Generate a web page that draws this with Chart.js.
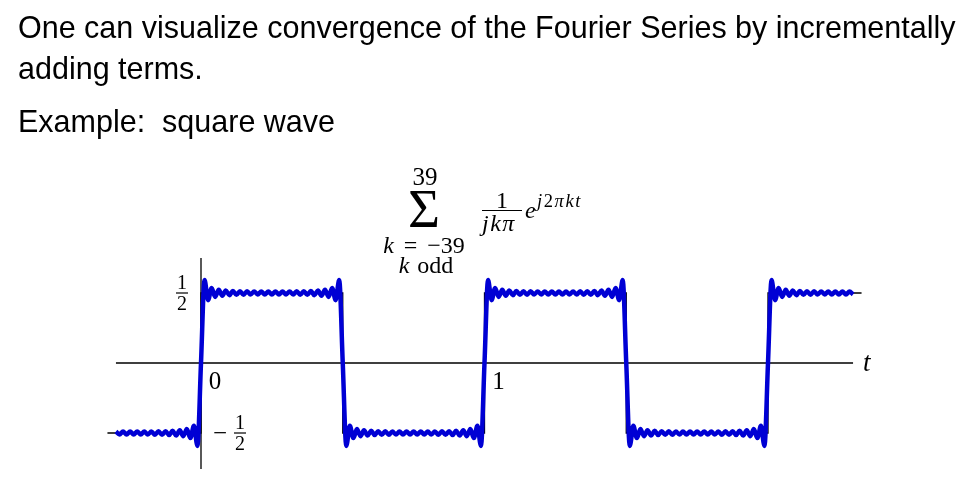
<!DOCTYPE html>
<html>
<head>
<meta charset="utf-8">
<script src="https://cdn.jsdelivr.net/npm/chart.js@4.4.0/dist/chart.umd.min.js"></script>
<style>
  body { margin: 0; background: #fff; }
  #wrap { position: relative; width: 976px; height: 477px; overflow: hidden; }
  #fourierChart { position: absolute; left: 0; top: 0; }
  .txt { position: absolute; left: 18px; font-family: 'Liberation Sans', sans-serif; font-size: 30.5px; line-height: 1; white-space: nowrap; color: #000; }
  .m { position: absolute; font-family: 'Liberation Serif', serif; line-height: 1; white-space: nowrap; color: #000; }
  .c { text-align: center; }
  .i { font-style: italic; }
</style>
</head>
<body>
<div id="wrap">
  <canvas id="fourierChart" width="976" height="477"></canvas>

  <div class="txt" style="top:12px;">One can visualize convergence of the Fourier Series by incrementally</div>
  <div class="txt" style="top:53px;">adding terms.</div>
  <div class="txt" style="top:106px;">Example:&nbsp; square wave</div>

  <!-- the sum shown above the plot -->
  <div class="m c" style="left:385px; width:80px; top:164px; font-size:25px;">39</div>
  <div class="m" style="left:408px; top:181px; font-size:55px;">Σ</div>
  <div class="m c" style="left:364px; width:120px; top:233px; font-size:24px; word-spacing:4px;"><span class="i">k</span> = −39</div>
  <div class="m c" style="left:366px; width:120px; top:253px; font-size:24px; word-spacing:2px;"><span class="i">k</span> odd</div>
  <div class="m c" style="left:482px; width:40px; top:188px; font-size:24px;">1</div>
  <div style="position:absolute; left:482px; top:210px; width:40px; height:1.3px; background:#000;"></div>
  <div class="m i" style="left:482px; top:211px; font-size:24px; letter-spacing:1.5px;">jkπ</div>
  <div class="m i" style="left:525px; top:198px; font-size:24px;">e</div>
  <div class="m i" style="left:537px; top:192px; font-size:18.5px; letter-spacing:1.6px;">j<span style="font-style:normal">2</span>πkt</div>
</div>

<script>
// sample grid of the partial sum (one point per ripple extremum)
const tStart = -0.3;
const tStep = 1 / 80;

// partial sum values, read segment by segment
const rippleLowLead = [-0.490, -0.510, -0.490, -0.510, -0.490, -0.510, -0.490, -0.510, -0.490, -0.511, -0.489, -0.512,
  -0.488, -0.513, -0.487, -0.515, -0.484, -0.518, -0.480, -0.523, -0.472, -0.536, -0.449, -0.592];
const rippleHigh1 = [0, 0.592, 0.449, 0.536, 0.472, 0.523, 0.480, 0.518, 0.484, 0.515, 0.487, 0.513, 0.488, 0.512,
  0.489, 0.511, 0.490, 0.510, 0.490, 0.510, 0.490, 0.510, 0.490, 0.510, 0.490, 0.511, 0.489, 0.512, 0.488, 0.513,
  0.487, 0.515, 0.484, 0.518, 0.480, 0.523, 0.472, 0.536, 0.449, 0.592];
const rippleLow1 = [0, -0.592, -0.449, -0.536, -0.472, -0.523, -0.480, -0.518, -0.484, -0.515, -0.487, -0.513, -0.488, -0.512,
  -0.489, -0.511, -0.490, -0.510, -0.490, -0.510, -0.490, -0.510, -0.490, -0.510, -0.490, -0.511, -0.489, -0.512, -0.488, -0.513,
  -0.487, -0.515, -0.484, -0.518, -0.480, -0.523, -0.472, -0.536, -0.449, -0.592];
const rippleHigh2 = [0, 0.592, 0.449, 0.536, 0.472, 0.523, 0.480, 0.518, 0.484, 0.515, 0.487, 0.513, 0.488, 0.512,
  0.489, 0.511, 0.490, 0.510, 0.490, 0.510, 0.490, 0.510, 0.490, 0.510, 0.490, 0.511, 0.489, 0.512, 0.488, 0.513,
  0.487, 0.515, 0.484, 0.518, 0.480, 0.523, 0.472, 0.536, 0.449, 0.592];
const rippleLow2 = [0, -0.592, -0.449, -0.536, -0.472, -0.523, -0.480, -0.518, -0.484, -0.515, -0.487, -0.513, -0.488, -0.512,
  -0.489, -0.511, -0.490, -0.510, -0.490, -0.510, -0.490, -0.510, -0.490, -0.510, -0.490, -0.511, -0.489, -0.512, -0.488, -0.513,
  -0.487, -0.515, -0.484, -0.518, -0.480, -0.523, -0.472, -0.536, -0.449, -0.592];
const rippleHighTail = [0, 0.592, 0.449, 0.536, 0.472, 0.523, 0.480, 0.518, 0.484, 0.515, 0.487, 0.513, 0.488, 0.512,
  0.489, 0.511, 0.490, 0.510, 0.490, 0.510, 0.490, 0.510, 0.490, 0.510, 0.490];

// ideal square wave underneath
const squareT = [-0.33, 0, 0, 0.5, 0.5, 1, 1, 1.5, 1.5, 2, 2, 2.33];
const squareY = [-0.5, -0.5, 0.5, 0.5, -0.5, -0.5, 0.5, 0.5, -0.5, -0.5, 0.5, 0.5];

// axes and tick labels
const axisT = [-0.3, 2.3];
const axisY = [-0.757, 0.75];
const xTickValues = [0, 1];
const xTickLabels = ['0', '1'];
const yTickValues = [0.5, -0.5];
const yTickSigns = ['', '−'];
const yTickNum = ['1', '1'];
const yTickDen = ['2', '2'];

const rippleY = [].concat(rippleLowLead, rippleHigh1, rippleLow1, rippleHigh2, rippleLow2, rippleHighTail);
const sumPoints = rippleY.map((y, i) => ({ x: tStart + i * tStep, y: y }));
const squarePoints = squareT.map((t, i) => ({ x: t, y: squareY[i] }));

const serif = "'Liberation Serif', serif";

//axes under the curves, labels on top
const axesLines = {
  id: 'axesLines',
  beforeDatasetsDraw(chart) {
    const { ctx, scales: { x, y } } = chart;
    ctx.save();
    ctx.strokeStyle = '#000';
    ctx.lineWidth = 1.3;
    ctx.beginPath();
    ctx.moveTo(x.getPixelForValue(axisT[0]), y.getPixelForValue(0));
    ctx.lineTo(x.getPixelForValue(axisT[1]), y.getPixelForValue(0));
    ctx.moveTo(x.getPixelForValue(0), y.getPixelForValue(axisY[0]));
    ctx.lineTo(x.getPixelForValue(0), y.getPixelForValue(axisY[1]));
    ctx.stroke();
    ctx.restore();
  },
  afterDatasetsDraw(chart) {
    const { ctx, scales: { x, y } } = chart;
    const y0 = y.getPixelForValue(0);
    ctx.save();
    ctx.fillStyle = '#000';
    ctx.textAlign = 'center';
    ctx.textBaseline = 'alphabetic';

    // 0 and 1 below the t axis
    ctx.font = '25px ' + serif;
    xTickValues.forEach((v, i) => {
      ctx.fillText(xTickLabels[i], x.getPixelForValue(v) + 14, y0 + 26);
    });

    // t at the end of the axis
    ctx.font = 'italic 27px ' + serif;
    ctx.textAlign = 'left';
    ctx.fillText('t', x.getPixelForValue(axisT[1]) + 10, y0 + 8);

    // fractions +-1/2
    yTickValues.forEach((v, i) => {
      const py = y.getPixelForValue(v);
      const cx = i === 0 ? x.getPixelForValue(0) - 19 : x.getPixelForValue(0) + 39;
      if (yTickSigns[i]) {
        ctx.font = '25px ' + serif;
        ctx.textAlign = 'center';
        ctx.fillText(yTickSigns[i], cx - 20, py + 8);
      }
      ctx.font = '20px ' + serif;
      ctx.textAlign = 'center';
      ctx.fillText(yTickNum[i], cx, py - 4);
      ctx.fillText(yTickDen[i], cx, py + 17);
      ctx.fillRect(cx - 6, py - 0.6, 12, 1.2);
    });
    ctx.restore();
  }
};

const config = {
  type: 'line',
  data: {
    datasets: [{
      label: 'partial sum',
      data: sumPoints,
      borderColor: '#0000d4',
      borderWidth: 4.5,
      pointRadius: 0,
      cubicInterpolationMode: 'monotone',
      order: 0
    }, {
      label: 'square wave',
      data: squarePoints,
      borderColor: '#000',
      borderWidth: 1.3,
      pointRadius: 0,
      tension: 0,
      order: 1
    }]
  },
  options: {
    responsive: false,
    animation: false,
    layout: { padding: { left: 59.25, right: 37.9, top: 251, bottom: 2 } },
    scales: {
      x: { type: 'linear', min: -0.5, max: 2.6, display: false },
      y: { type: 'linear', min: -0.8, max: 0.8, display: false }
    },
    plugins: {
      legend: { display: false },
      tooltip: { enabled: false }
    }
  },
  plugins: [axesLines]
};

const fourierChart = new Chart(document.getElementById('fourierChart'), config);
</script>
</body>
</html>
